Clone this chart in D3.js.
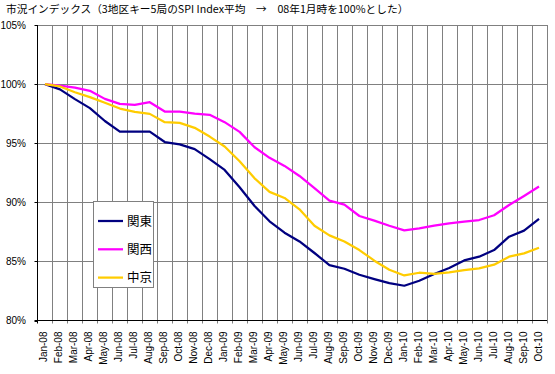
<!DOCTYPE html>
<html>
<head>
<meta charset="utf-8">
<script src="https://cdn.jsdelivr.net/npm/d3@7"></script>
<style>
  html, body { margin: 0; padding: 0; background: #fff; }
  svg { display: block; }
  .tick-label { font-family: "Liberation Sans Narrow", "Liberation Sans", Arial, sans-serif; font-size: 10px; fill: #000; }
</style>
</head>
<body>
<svg width="555" height="374"></svg>
<script>
// month labels on the category axis
var months = ["Jan-08","Feb-08","Mar-08","Apr-08","May-08","Jun-08","Jul-08","Aug-08","Sep-08","Oct-08","Nov-08","Dec-08",
              "Jan-09","Feb-09","Mar-09","Apr-09","May-09","Jun-09","Jul-09","Aug-09","Sep-09","Oct-09","Nov-09","Dec-09",
              "Jan-10","Feb-10","Mar-10","Apr-10","May-10","Jun-10","Jul-10","Aug-10","Sep-10","Oct-10"];

// index values (%), Jan-08 = 100
var kanto = [100, 99.55, 98.73, 97.97, 96.88, 95.98, 95.98, 95.98, 95.1, 94.9, 94.5, 93.65,
             92.74, 91.27, 89.69, 88.39, 87.43, 86.69, 85.71, 84.69, 84.38, 83.87, 83.5, 83.16,
             82.94, 83.36, 83.93, 84.44, 85.08, 85.4, 85.96, 87.09, 87.6, 88.59];
var kansai = [100, 99.87, 99.7, 99.43, 98.75, 98.33, 98.25, 98.47, 97.68, 97.68, 97.5, 97.4,
              96.78, 95.96, 94.66, 93.76, 93.08, 92.23, 91.19, 90.14, 89.8, 88.84, 88.45, 88.02,
              87.63, 87.8, 88.02, 88.22, 88.36, 88.5, 88.9, 89.77, 90.54, 91.33];
var chukyo = [100, 99.8, 99.31, 98.9, 98.42, 97.93, 97.65, 97.48, 96.78, 96.72, 96.3, 95.56,
              94.72, 93.47, 92.03, 90.88, 90.37, 89.41, 88.02, 87.2, 86.69, 85.96, 85.06, 84.29,
              83.81, 84.04, 83.95, 84.07, 84.27, 84.41, 84.72, 85.4, 85.68, 86.16];

var seriesNames = ["関東", "関西", "中京"];
var seriesColors = ["#000080", "#ff00ff", "#ffcc00"];
var yTicks = [80, 85, 90, 95, 100, 105];
var title = "市況インデックス（3地区キー5局のSPI Index平均　→　08年1月時を100%とした）";

var svg = d3.select("svg");

var plotLeft = 37.5, plotRight = 546.5, plotTop = 25, plotBottom = 320.5;

var x = d3.scaleBand().domain(months).range([plotLeft, plotRight]);
var y = d3.scaleLinear().domain([80, 105]).range([plotBottom, plotTop]);

// title
svg.append("text")
  .attr("x", 6).attr("y", 13)
  .style("font-family", "'Noto Sans CJK JP', sans-serif")
  .style("font-size", "10.7px")
  .text(title);

// vertical gridlines at category boundaries
var bounds = months.map(function(m) { return x(m); }).concat([plotRight]);
svg.append("g").selectAll("line")
  .data(bounds.slice(1))
  .enter().append("line")
  .attr("x1", function(d) { return Math.round(d) + 0.5; })
  .attr("x2", function(d) { return Math.round(d) + 0.5; })
  .attr("y1", plotTop).attr("y2", plotBottom + 3)
  .attr("stroke", "#808080");

// horizontal gridlines
svg.append("g").selectAll("line")
  .data(yTicks.slice(1))
  .enter().append("line")
  .attr("x1", plotLeft).attr("x2", plotRight + 0.5)
  .attr("y1", function(d) { return Math.round(y(d)) + 0.5; })
  .attr("y2", function(d) { return Math.round(y(d)) + 0.5; })
  .attr("stroke", "#808080");

// axes
svg.append("line")
  .attr("x1", plotLeft).attr("x2", plotLeft).attr("y1", plotTop).attr("y2", plotBottom)
  .attr("stroke", "#000");
svg.append("line")
  .attr("x1", plotLeft - 3).attr("x2", plotRight + 0.5).attr("y1", plotBottom).attr("y2", plotBottom)
  .attr("stroke", "#000");
svg.append("g").selectAll("line")
  .data(yTicks)
  .enter().append("line")
  .attr("x1", plotLeft - 3).attr("x2", plotLeft)
  .attr("y1", function(d) { return Math.round(y(d)) + 0.5; })
  .attr("y2", function(d) { return Math.round(y(d)) + 0.5; })
  .attr("stroke", "#000");
svg.append("line")
  .attr("x1", plotLeft).attr("x2", plotLeft).attr("y1", plotBottom).attr("y2", plotBottom + 3)
  .attr("stroke", "#000");

// y tick labels
svg.append("g").selectAll("text")
  .data(yTicks)
  .enter().append("text")
  .attr("class", "tick-label")
  .attr("x", 26)
  .attr("y", function(d) { return y(d); })
  .attr("dy", "0.35em")
  .attr("text-anchor", "end")
  .text(function(d) { return d + "%"; });

// x tick labels, rotated
svg.append("g").selectAll("text")
  .data(months)
  .enter().append("text")
  .attr("class", "tick-label")
  .attr("transform", function(d) {
    return "translate(" + (x(d) + x.bandwidth() / 2 - 1) + "," + (plotBottom + 11) + ") rotate(-90)";
  })
  .attr("dy", "0.35em")
  .attr("text-anchor", "end")
  .text(function(d) { return d; });

// lines
var line = d3.line()
  .x(function(d, i) { return x(months[i]) + x.bandwidth() / 2; })
  .y(function(d) { return y(d); });

[kanto, kansai, chukyo].forEach(function(s, i) {
  svg.append("path")
    .datum(s)
    .attr("fill", "none")
    .attr("stroke", seriesColors[i])
    .attr("stroke-width", 2.25)
    .attr("stroke-linejoin", "round")
    .attr("d", line);
});

// legend
var legend = svg.append("g");
legend.append("rect")
  .attr("x", 93.5).attr("y", 201.5)
  .attr("width", 60).attr("height", 86)
  .attr("fill", "#fff").attr("stroke", "#808080");

var rows = legend.selectAll("g.row")
  .data(seriesNames)
  .enter().append("g")
  .attr("class", "row")
  .attr("transform", function(d, i) { return "translate(0," + (221 + i * 28.3) + ")"; });
rows.append("line")
  .attr("x1", 98).attr("x2", 123)
  .attr("stroke", function(d, i) { return seriesColors[i]; })
  .attr("stroke-width", 2.25);
rows.append("text")
  .attr("x", 127).attr("dy", "0.38em")
  .style("font-family", "'Noto Sans CJK JP', sans-serif")
  .style("font-size", "12.5px")
  .text(function(d) { return d; });
</script>
</body>
</html>
